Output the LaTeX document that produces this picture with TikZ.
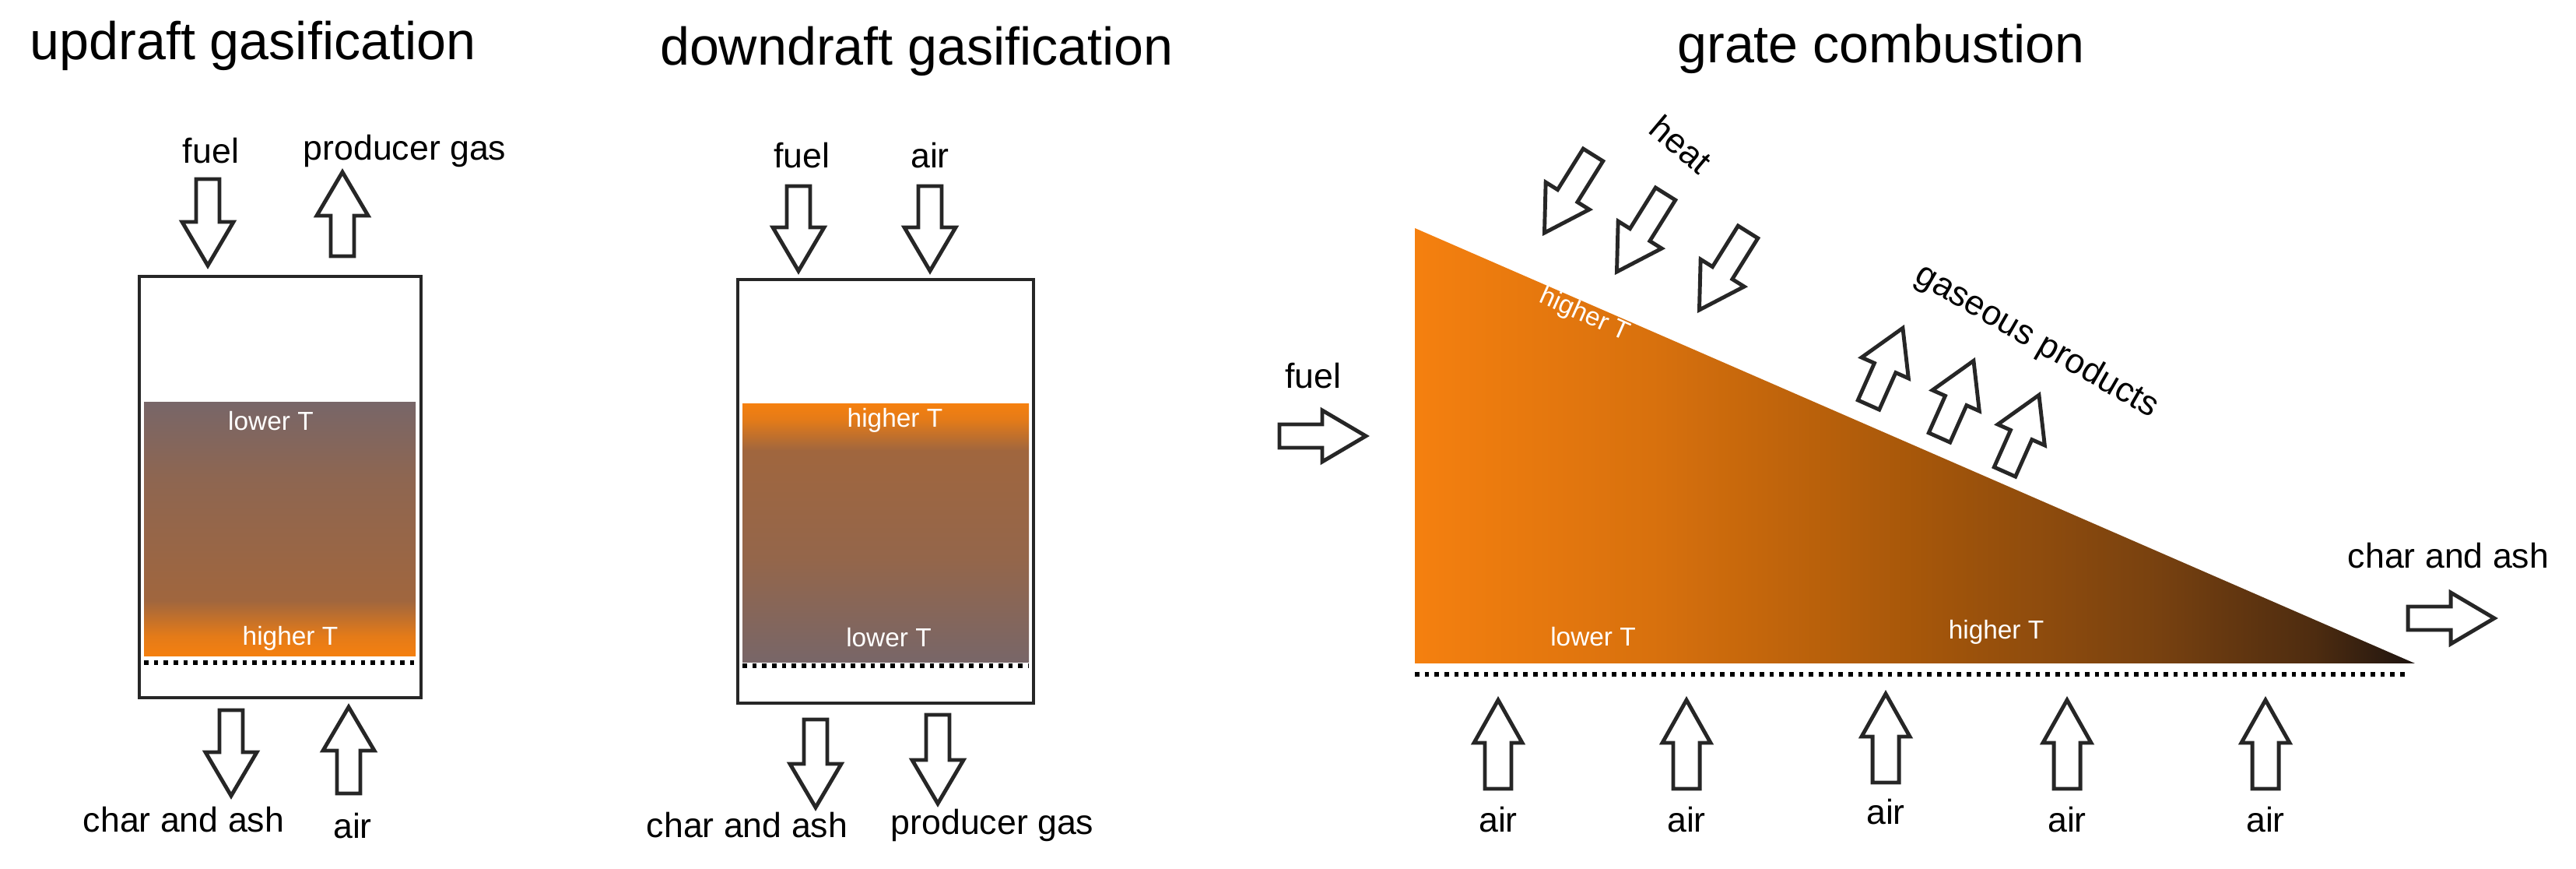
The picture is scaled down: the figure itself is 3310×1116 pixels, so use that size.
\documentclass[tikz,border=0pt]{standalone}
\usepackage{fontspec}
\setmainfont{Liberation Sans}
\usepackage{tikz}
\usetikzlibrary{calc}
\definecolor{hotT}{HTML}{F5800F}
\definecolor{midT}{HTML}{A0663E}
\definecolor{coolT}{HTML}{786668}
\definecolor{darkT}{HTML}{1E1410}
\pgfdeclareverticalshading{updraftbed}{100bp}{color(0bp)=(hotT); color(25bp)=(hotT); color(29bp)=(hotT!80!midT); color(36bp)=(midT); color(60bp)=(midT!55!coolT); color(75bp)=(coolT); color(100bp)=(coolT)}
\pgfdeclareverticalshading{downdraftbed}{100bp}{color(0bp)=(coolT); color(25bp)=(coolT); color(45bp)=(midT!70!coolT); color(66bp)=(midT); color(72bp)=(hotT!80!midT); color(75bp)=(hotT); color(100bp)=(hotT)}
\pgfdeclarehorizontalshading{gratebed}{100bp}{color(0bp)=(hotT); color(25bp)=(hotT); color(37bp)=(hotT!88!black); color(50bp)=(hotT!68!black); color(62bp)=(hotT!42!darkT); color(70bp)=(darkT!78!hotT); color(75bp)=(darkT); color(100bp)=(darkT)}
% block arrow: tail, angle, length
\newcommand{\fatarrow}[3]{%
  \begin{scope}[shift={#1},rotate=#2]
    \draw[arrowline] (0,-\sw) -- (#3-\hl,-\sw) -- (#3-\hl,-\hw) -- (#3,0)
      -- (#3-\hl,\hw) -- (#3-\hl,\sw) -- (0,\sw) -- cycle;
  \end{scope}}
\def\sw{15}\def\hw{33}\def\hl{56}
\begin{document}
\begin{tikzpicture}[x=0.01cm,y=0.01cm,
    arrowline/.style={draw=black!85,line width=1.4pt,fill=white},
    title/.style={font=\fontsize{19.4}{22}\selectfont},
    label/.style={font=\fontsize{12.7}{15}\selectfont},
    temp/.style={font=\fontsize{9.5}{11}\selectfont,text=white},
    vessel/.style={draw=black!85,line width=1.4pt},
    grid/.style={dotted,line width=1.6pt}]
  \useasboundingbox (0,0) rectangle (3310,1116);

  % updraft gasification
  \node[title] (uptitle) at (325,1057) {updraft gasification};
  \shade[shading=updraftbed] (185,273) rectangle (534,599);
  \draw[vessel] (179,220) rectangle (541,761);
  \coordinate (upgridL) at (185,265);
  \coordinate (upgridR) at (534,265);
  \draw[grid] (upgridL) -- (upgridR);
  \node[temp] (upcold) at (348,575) {lower T};
  \node[temp] (uphot) at (373,296) {higher T};
  \node[label] (upfuel) at (271,922) {fuel};
  \node[label] (upgas) at (520,922) {producer gas};
  \node[label] (upash) at (236,63) {char and ash};
  \node[label] (upair) at (453,55) {air};
  \fatarrow{(267,886)}{-90}{111}
  \fatarrow{(440,787)}{90}{108}
  \fatarrow{(297,204)}{-90}{110}
  \fatarrow{(448,97)}{90}{111}

  % downdraft gasification
  \node[title] (downtitle) at (1178,1050) {downdraft gasification};
  \shade[shading=downdraftbed] (954,265) rectangle (1322,597);
  \draw[vessel] (948,213) rectangle (1328,757);
  \coordinate (downgridL) at (954,261);
  \coordinate (downgridR) at (1322,261);
  \draw[grid] (downgridL) -- (downgridR);
  \node[temp] (downhot) at (1150,576) {higher T};
  \node[temp] (downcold) at (1142,297) {lower T};
  \node[label] (downfuel) at (1030,916) {fuel};
  \node[label] (downair) at (1195,916) {air};
  \node[label] (downash) at (960,56) {char and ash};
  \node[label] (downgas) at (1275,56) {producer gas};
  \fatarrow{(1026,877)}{-90}{109}
  \fatarrow{(1195,877)}{-90}{109}
  \fatarrow{(1048,192)}{-90}{113}
  \fatarrow{(1205,198)}{-90}{114}

  % grate combustion
  \node[title] (gratetitle) at (2417,1053) {grate combustion};
  \shade[shading=gratebed] (1818,823) -- (1818,264) -- (3103,264) -- cycle;
  \coordinate (gridL) at (1818,250);
  \coordinate (gridR) at (3090,250);
  \draw[grid] (gridL) -- (gridR);
  \node[temp,rotate=-24] (bedtop) at (2036,711) {higher T};
  \node[temp] (bedfront) at (2047,298) {lower T};
  \node[temp] (bedend) at (2565,304) {higher T};
  \node[label] (gratefuel) at (1687,633) {fuel};
  \node[label] (grateash) at (3146,402) {char and ash};
  \node[label,rotate=-40] (heat) at (2160,931) {heat};
  \node[label,rotate=-30] (gases) at (2617,677) {gaseous products};
  \fatarrow{(1644,556)}{0}{111}
  \fatarrow{(3094,322)}{0}{111}
  \fatarrow{(2047,917)}{-122}{118}
  \fatarrow{(2140,867)}{-122}{118}
  \fatarrow{(2246,818)}{-122}{118}
  \fatarrow{(2401,596)}{66}{108}
  \fatarrow{(2492,554)}{66}{108}
  \fatarrow{(2576,510)}{66}{108}
  \def\sw{17}\def\hw{31}\def\hl{55}
  \foreach \ax/\ay/\ly [count=\i] in {1925/103/63, 2167/103/63, 2423/111/73, 2656/103/63, 2911/103/63} {
    \fatarrow{(\ax,\ay)}{90}{114}
    \node[label] (gateair\i) at (\ax,\ly) {air};
  }
\end{tikzpicture}
\end{document}
